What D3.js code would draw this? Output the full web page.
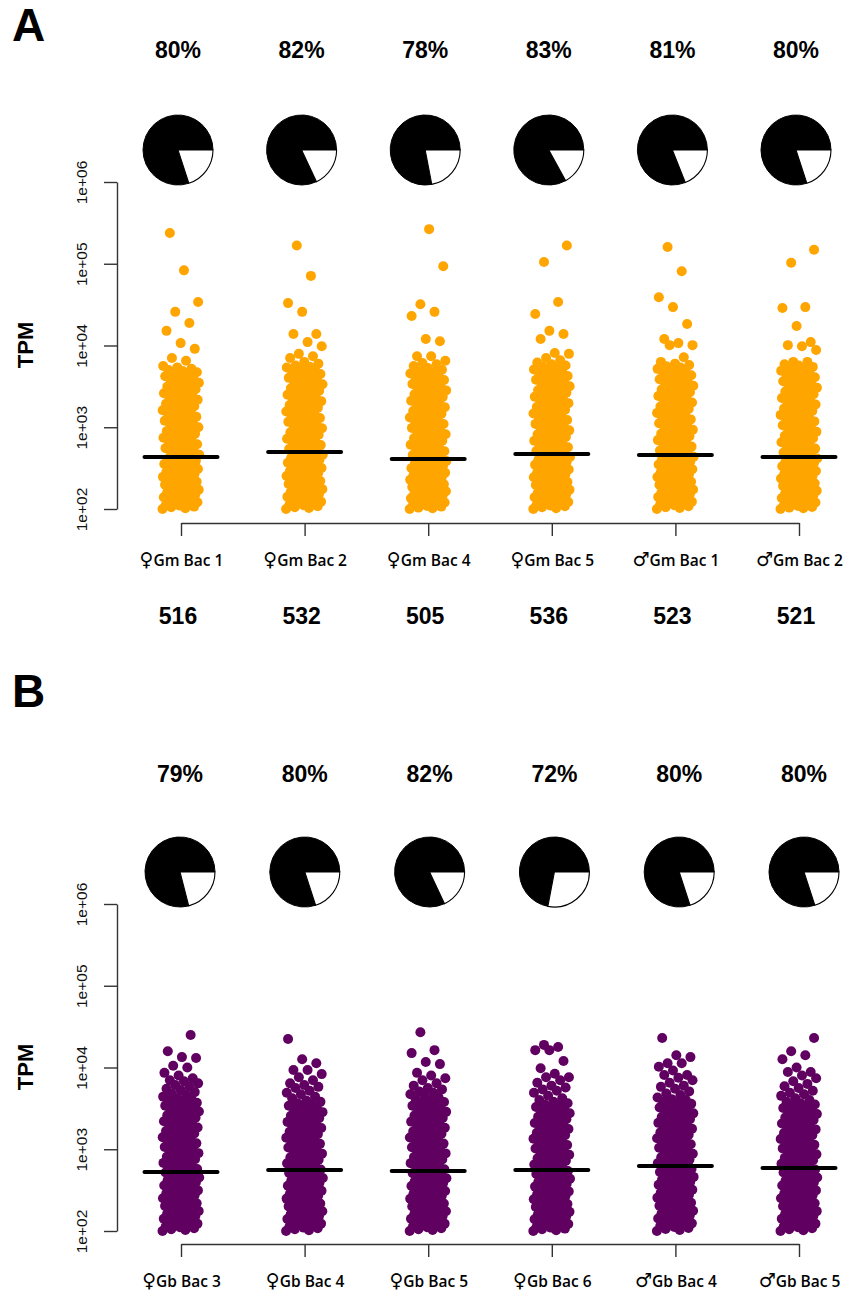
<!DOCTYPE html>
<html>
<head>
<meta charset="utf-8">
<script src="https://cdn.jsdelivr.net/npm/d3@7"></script>
<style>
  html, body { margin: 0; padding: 0; background: #fff; }
  svg { display: block; }
</style>
</head>
<body>
<svg id="fig" width="844" height="1297"></svg>
<script>
// ---- categories, summary values and tick labels ----
const catsA = ["\u2640Gm Bac 1", "\u2640Gm Bac 2", "\u2640Gm Bac 4", "\u2640Gm Bac 5", "\u2642Gm Bac 1", "\u2642Gm Bac 2"];
const pctA = [80, 82, 78, 83, 81, 80];
const countsA = [516, 532, 505, 536, 523, 521];
const medianA = [433, 498, 408, 470, 458, 433];

const catsB = ["\u2640Gb Bac 3", "\u2640Gb Bac 4", "\u2640Gb Bac 5", "\u2640Gb Bac 6", "\u2642Gb Bac 4", "\u2642Gb Bac 5"];
const pctB = [79, 80, 82, 72, 80, 80];
const medianB = [526, 557, 541, 557, 624, 590];

const yTicks = [1e2, 1e3, 1e4, 1e5, 1e6];

// ---- TPM values per sample (ascending) ----
const tpmGmF1 = [100,102,105,107,110,112,116,119,121,125,128,132,135,139,143,146,151,154,159,163,168,172,177,182,187,192,198,203,209,215,221,227,234,240,247,254,261,269,276,284,292,300,309,318,327,336,346,356,366,377,388,399,410,422,
446,462,479,497,516,535,555,576,598,620,643,667,692,718,745,773,802,832,863,896,929,964,1000,1038,1077,1117,1159,1203,1248,1295,1343,1394,1446,1500,1557,1615,1676,1739,1804,1872,1942,2015,2091,2170,2251,2336,2424,2515,2609,2707,2809,2915,3024,3138,3256,3378,3505,3637,3774,3916,4063,4216,4374,4539,4710,4887,
5000,5200,5400,5600,6500,7050,9100,10700,15100,18800,25800,34000,83000,238000];
const tpmGmF2 = [100,103,105,108,111,113,117,120,123,126,130,133,137,141,145,148,153,157,161,166,171,175,180,186,191,196,202,208,214,220,226,233,239,246,253,261,268,276,284,292,300,309,318,327,337,347,357,367,378,389,400,412,424,436,449,462,476,490,
505,524,542,563,583,605,627,650,674,699,725,752,780,809,839,870,902,936,970,1006,1044,1082,1123,1164,1207,1252,1299,1347,1397,1449,1502,1558,1616,1676,1738,1803,1870,1939,2011,2086,2163,2244,2327,2413,2503,2596,2692,2792,2896,3003,3115,3230,3350,3475,3604,3738,3876,4020,4170,4325,4485,4652,4825,5004,5190,5380,
5500,5700,6000,6300,7050,7400,7900,9800,11000,13800,13800,25800,33000,71000,167000];
const tpmGmF4 = [100,102,104,107,109,112,114,117,120,123,126,129,132,135,139,142,146,149,153,157,161,165,169,173,177,182,186,191,196,201,206,211,216,222,228,233,239,245,252,258,265,271,278,285,293,300,308,316,324,332,341,349,358,368,377,387,397,
410,426,441,458,475,492,510,529,549,569,590,612,635,658,683,708,734,761,790,819,849,881,913,947,982,1019,1056,1096,1136,1178,1222,1267,1314,1363,1414,1466,1520,1577,1635,1696,1759,1824,1892,1962,2035,2110,2189,2270,2354,2441,2532,2626,2723,2824,2929,3038,3150,3267,3388,3514,3645,3780,3920,4066,4217,4373,4535,4703,4878,5059,
5300,5600,5900,6100,6500,7400,7400,11300,12000,23000,25800,32000,93000,265000];
const tpmGmF5 = [100,102,105,108,110,113,116,119,122,126,129,132,136,139,143,147,151,155,159,163,168,172,177,182,187,192,197,202,208,214,220,226,232,238,245,251,258,265,273,280,288,296,304,312,321,330,339,348,358,368,378,388,399,410,421,433,445,457,
475,492,511,530,549,570,591,613,636,659,684,709,736,763,791,821,851,883,916,950,985,1022,1060,1099,1140,1182,1226,1272,1319,1368,1419,1472,1527,1584,1642,1704,1767,1833,1901,1971,2045,2121,2200,2281,2366,2454,2546,2640,2738,2840,2946,3055,3169,3287,3409,3536,3667,3804,3945,4092,4244,4402,4565,4735,4911,5094,5283,5480,5683,5895,
6200,6600,7050,7900,8100,12000,13800,15100,24300,34000,105000,167000];
const tpmGmM1 = [100,103,105,108,111,114,116,120,123,126,129,133,136,140,144,148,152,156,160,164,169,173,178,183,188,193,198,204,209,215,221,227,233,240,246,253,260,267,275,282,290,298,306,315,324,333,342,351,361,371,381,392,403,414,425,437,449,
466,483,501,520,539,559,580,601,624,647,671,696,722,749,776,805,835,866,898,932,966,1002,1040,1078,1118,1160,1203,1248,1294,1342,1392,1444,1498,1553,1611,1671,1733,1798,1864,1934,2006,2080,2157,2238,2321,2407,2497,2590,2686,2786,2889,2997,3108,3224,3344,3468,3597,3731,3870,4013,4163,4317,4478,4645,4817,4996,5182,5375,5575,5782,
6000,6300,7200,10100,10100,10700,12000,18300,29500,39000,81000,160000];
const tpmGmM2 = [100,102,104,106,109,111,114,117,120,123,126,129,133,136,140,143,147,151,155,159,163,167,172,176,181,186,191,196,201,207,212,218,224,230,236,243,249,256,263,270,277,285,292,300,308,317,325,334,343,353,362,372,382,393,403,414,426,
440,456,473,491,509,528,548,568,589,611,634,657,682,707,733,761,789,818,849,880,913,947,982,1019,1057,1096,1137,1179,1223,1269,1316,1365,1416,1468,1523,1580,1638,1699,1763,1828,1896,1967,2040,2116,2195,2276,2361,2449,2540,2635,2733,2835,2940,3050,3163,3281,3403,3530,3661,3798,3939,4086,4238,4396,4559,4729,4905,5088,5277,5474,5678,
5900,6300,6300,8800,9800,10100,11000,17300,28800,29500,103000,148000];

const tpmGbF3 = [100,103,105,108,111,114,117,120,123,127,130,134,137,141,145,149,153,157,162,166,171,176,181,186,191,196,202,207,213,219,225,232,238,245,252,259,266,274,281,289,297,306,314,323,332,342,351,361,372,382,393,404,416,427,440,452,465,478,492,506,520,
535,554,573,593,614,635,658,681,705,729,755,781,808,837,866,896,928,960,994,1029,1065,1102,1141,1181,1222,1265,1309,1355,1403,1452,1503,1556,1610,1667,1725,1786,1848,1913,1980,2050,2122,2196,2273,2353,2435,2521,2609,2701,2795,2893,2995,
3100,3200,3300,3400,3500,3600,3700,3900,4000,4100,4200,4400,4600,4800,5000,5300,5500,5800,6100,6400,6800,7000,7400,8000,8600,10000,10500,13100,13400,15800,25000];
const tpmGbF4 = [100,102,105,108,110,113,116,119,123,126,129,133,136,140,144,148,152,156,160,165,169,174,179,184,189,194,200,205,211,217,223,229,236,242,249,256,263,271,278,286,294,302,311,320,329,338,347,357,367,378,388,399,410,422,434,446,459,471,485,498,512,527,541,
566,586,606,627,649,672,695,719,744,770,797,825,854,884,915,947,980,1014,1050,1086,1124,1164,1204,1246,1290,1335,1382,1430,1480,1532,1586,1641,1698,1758,1819,1883,1949,2017,2087,2160,2236,2314,2395,2479,2566,2656,2748,2845,2944,3047,
3150,3250,3400,3500,3650,3800,3950,4200,4400,4700,4900,5200,5600,5800,6100,6400,7000,7600,8300,9300,9300,11300,12600,22300];
const tpmGbF5 = [100,103,105,108,111,114,117,120,123,126,130,133,137,141,144,148,152,157,161,165,170,174,179,184,189,194,200,205,211,217,223,229,235,242,248,255,262,270,277,285,293,301,309,318,327,336,345,355,365,375,385,396,407,419,430,442,455,467,480,494,508,522,
550,569,589,610,631,653,676,700,724,750,776,803,831,860,890,921,954,987,1022,1057,1094,1133,1172,1213,1256,1300,1345,1392,1441,1491,1544,1598,1654,1712,1771,1833,1898,1964,2033,2104,2178,2254,2333,2415,2499,2587,2677,2771,2868,2968,3072,3180,3291,3406,3525,3649,3777,3909,
4050,4300,4500,4700,4900,5100,5400,5600,6000,6400,7000,7400,8000,8600,11000,11700,15000,16300,27000];
const tpmGbF6 = [100,102,105,107,110,113,116,119,122,125,129,132,136,139,143,147,151,155,159,163,168,172,177,182,187,192,197,203,208,214,220,226,232,238,245,252,259,266,273,281,288,296,305,313,322,331,340,349,359,369,379,390,401,412,423,435,447,460,472,486,499,513,527,542,
568,588,608,630,652,675,698,723,748,774,801,829,858,888,919,951,984,1019,1054,1091,1129,1169,1210,1252,1296,1341,1388,1437,1487,1539,1593,1649,1706,1766,1828,1892,1958,2026,2097,2171,2247,2325,2407,2491,2578,2668,2762,2858,2958,3062,3169,3280,3395,3513,
3650,3800,4000,4200,4500,4900,5200,5400,5700,6000,6500,7000,7600,7600,8400,9800,12000,16300,16300,17800,18900];
const tpmGbM4 = [100,103,106,109,112,115,118,121,124,128,131,135,139,142,146,150,155,159,163,168,173,177,182,188,193,198,204,210,216,222,228,235,241,248,255,262,270,277,285,293,302,310,319,328,337,347,357,367,377,388,399,410,422,434,446,459,472,485,499,513,528,543,558,574,590,607,
633,654,676,699,723,747,773,799,826,854,883,913,944,976,1009,1043,1079,1115,1153,1192,1233,1275,1318,1363,1409,1457,1506,1558,1610,1665,1722,1780,1841,1903,1968,2035,2104,2175,2249,2326,2405,2486,2571,2658,2748,2842,2938,3038,3141,3248,3358,3472,3590,3712,
3850,4000,4100,4300,4600,4800,5100,5500,5800,6000,6500,7000,7500,8100,8100,9200,10200,11300,11300,13400,14100,23000];
const tpmGbM5 = [100,102,105,108,111,114,117,120,123,126,130,133,137,141,145,149,153,157,161,166,170,175,180,185,190,196,201,207,213,219,225,231,238,244,251,258,266,273,281,289,297,305,314,323,332,341,351,361,371,381,392,403,415,426,438,451,464,477,490,504,519,533,549,564,580,
600,620,641,663,686,709,733,758,784,810,838,866,896,926,958,990,1024,1059,1095,1132,1171,1211,1252,1294,1338,1384,1431,1480,1530,1582,1636,1692,1749,1809,1870,1934,2000,2068,2138,2211,2286,2364,2444,2527,2613,2702,2794,2889,2987,3089,3194,3302,3415,3531,
3650,3800,4000,4200,4500,4700,4900,5200,5600,5900,6300,6800,7400,8000,8800,8800,10000,12600,14100,15800,23000];

const seriesA = [tpmGmF1, tpmGmF2, tpmGmF4, tpmGmF5, tpmGmM1, tpmGmM2];
const seriesB = [tpmGbF3, tpmGbF4, tpmGbF5, tpmGbF6, tpmGbM4, tpmGbM5];

// ---- drawing ----
const svg = d3.select("#fig");
const SANS = "'Liberation Sans', Arial, sans-serif";
const LABEL = "'Open Sans', Lato, 'DejaVu Sans', sans-serif";
const PHI = 0.6180339887;

function drawPanel(cfg) {
  const g = svg.append("g");

  // panel letter
  g.append("text")
    .attr("x", 12).attr("y", cfg.letterY)
    .style("font-family", SANS).style("font-weight", "bold").style("font-size", "46px")
    .text(cfg.letter);

  const x = d3.scalePoint().domain(cfg.cats).range([181, 799]);
  const xTop = d3.scalePoint().domain(cfg.cats).range(cfg.topRange);
  const y = d3.scaleLog().domain([1e2, 1e6]).range([cfg.yBottom, cfg.yTop]);

  // percentage labels above the pies
  g.selectAll("text.pct").data(cfg.cats).join("text")
    .attr("class", "pct")
    .attr("x", d => xTop(d)).attr("y", cfg.pctY)
    .attr("text-anchor", "middle")
    .style("font-family", SANS).style("font-weight", "bold").style("font-size", "23px")
    .text((d, i) => cfg.pct[i] + "%");

  // pies: share drawn in black, the rest in white, starting at 3 o'clock
  const arc = d3.arc().innerRadius(0).outerRadius(35);
  cfg.cats.forEach((c, i) => {
    const p = cfg.pct[i] / 100;
    const start = Math.PI / 2;
    const mid = start + (1 - p) * 2 * Math.PI;
    const pg = g.append("g").attr("transform", `translate(${xTop(c)},${cfg.pieY})`);
    pg.append("path")
      .attr("d", arc({ startAngle: mid, endAngle: start + 2 * Math.PI }))
      .attr("fill", "#000").attr("stroke", "#000").attr("stroke-width", 1);
    pg.append("path")
      .attr("d", arc({ startAngle: start, endAngle: mid }))
      .attr("fill", "#fff").attr("stroke", "#000").attr("stroke-width", 1.1);
  });

  // y axis
  const yAxis = d3.axisLeft(y).tickValues(yTicks).tickSize(13).tickSizeOuter(0)
    .tickFormat(v => "1e+" + String(Math.round(Math.log10(v))).padStart(2, "0"));
  const ya = g.append("g").attr("transform", "translate(117,0)").call(yAxis);
  ya.selectAll("path, line").attr("stroke", "#333").attr("stroke-width", 1.4);
  ya.selectAll("text")
    .attr("x", null).attr("dy", null)
    .attr("transform", "translate(-30,0) rotate(-90)")
    .attr("text-anchor", "middle")
    .attr("fill", "#111")
    .style("font-family", SANS).style("font-size", "15.5px");

  // y title
  g.append("text")
    .attr("transform", `translate(33,${cfg.tpmY}) rotate(-90)`)
    .attr("text-anchor", "middle")
    .style("font-family", SANS).style("font-weight", "bold").style("font-size", "22px")
    .text("TPM");

  // jittered points
  cfg.series.forEach((vals, i) => {
    const cx = x(cfg.cats[i]);
    g.append("g").selectAll("circle").data(vals).join("circle")
      .attr("cx", (d, k) => cx + (((k * PHI) % 1) - 0.5) * 37)
      .attr("cy", d => y(d))
      .attr("r", 5)
      .attr("fill", cfg.color);
  });

  // median bars
  g.append("g").selectAll("line").data(cfg.medians).join("line")
    .attr("x1", (d, i) => x(cfg.cats[i]) - 36.5)
    .attr("x2", (d, i) => x(cfg.cats[i]) + 36.5)
    .attr("y1", d => y(d)).attr("y2", d => y(d))
    .attr("stroke", "#000").attr("stroke-width", 4).attr("stroke-linecap", "round");

  // x axis; the sex symbol is set a little larger than the sample name
  const xAxis = d3.axisBottom(x).tickSize(13).tickSizeOuter(0);
  const xa = g.append("g").attr("transform", `translate(0,${cfg.xAxisY})`).call(xAxis);
  xa.selectAll("path, line").attr("stroke", "#333").attr("stroke-width", 1.4);
  xa.selectAll("text")
    .attr("y", 43).attr("dy", null)
    .attr("fill", "#000")
    .style("font-family", LABEL).style("font-size", "15.5px").style("font-weight", 600)
    .each(function (d) {
      const t = d3.select(this).text("");
      t.append("tspan").style("font-family", "'DejaVu Sans', sans-serif")
        .style("font-size", "19px").style("font-weight", "normal").text(d.charAt(0));
      t.append("tspan").text(d.slice(1));
    });

  // counts below the axis labels
  if (cfg.counts) {
    g.selectAll("text.cnt").data(cfg.cats).join("text")
      .attr("class", "cnt")
      .attr("x", d => xTop(d)).attr("y", cfg.countY)
      .attr("text-anchor", "middle")
      .style("font-family", SANS).style("font-weight", "bold").style("font-size", "23px")
      .text((d, i) => cfg.counts[i]);
  }
}

drawPanel({
  letter: "A", letterY: 41,
  cats: catsA, pct: pctA, counts: countsA, medians: medianA, series: seriesA,
  color: "#FFA500",
  topRange: [178, 796], pctY: 58, pieY: 150,
  yTop: 182, yBottom: 509, tpmY: 345,
  xAxisY: 523, countY: 624
});

drawPanel({
  letter: "B", letterY: 707,
  cats: catsB, pct: pctB, counts: null, medians: medianB, series: seriesB,
  color: "#600060",
  topRange: [180, 804], pctY: 782, pieY: 872,
  yTop: 904, yBottom: 1231, tpmY: 1067,
  xAxisY: 1244
});
</script>
</body>
</html>
